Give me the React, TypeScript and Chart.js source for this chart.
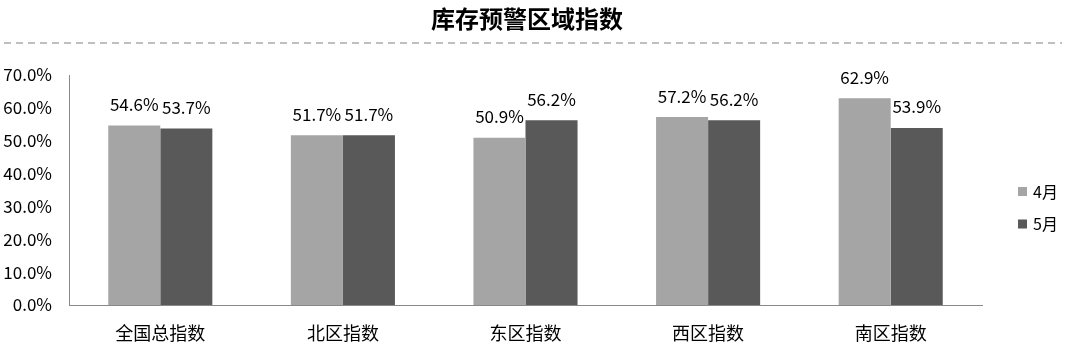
import React, { useEffect, useRef } from "react";
import { Chart, registerables } from "chart.js";

Chart.register(...registerables);

const TITLE = "库存预警区域指数";
const categories = ["全国总指数", "北区指数", "东区指数", "西区指数", "南区指数"];
const seriesNames = ["4月", "5月"];
const aprilValues = [0.546, 0.517, 0.509, 0.572, 0.629];
const mayValues = [0.537, 0.517, 0.562, 0.562, 0.539];
const seriesColors = ["#a5a5a5", "#595959"];
const yTicks = [0, 0.1, 0.2, 0.3, 0.4, 0.5, 0.6, 0.7];

const FONT = '"Noto Sans CJK SC", "Noto Sans", sans-serif';

const decorPlugin = {
  id: "decor",
  afterDraw(chart: any) {
    const ctx = chart.ctx;
    ctx.save();
    // title
    ctx.fillStyle = "#000";
    ctx.font = `bold 24px ${FONT}`;
    ctx.textAlign = "center";
    ctx.textBaseline = "middle";
    ctx.fillText(TITLE, 527, 19);
    // dashed line
    ctx.strokeStyle = "#bfbfbf";
    ctx.lineWidth = 2;
    ctx.setLineDash([7, 5]);
    ctx.beginPath();
    ctx.moveTo(4, 43);
    ctx.lineTo(1062, 43);
    ctx.stroke();
    ctx.setLineDash([]);
    // data labels
    ctx.font = `17px ${FONT}`;
    ctx.fillStyle = "#000";
    ctx.textAlign = "center";
    ctx.textBaseline = "middle";
    chart.data.datasets.forEach((ds: any, di: number) => {
      const meta = chart.getDatasetMeta(di);
      meta.data.forEach((el: any, i: number) => {
        const v = ds.data[i];
        ctx.fillText((v * 100).toFixed(1) + "%", el.x, el.y - 21);
      });
    });
    // legend
    ctx.font = `16px ${FONT}`;
    ctx.textAlign = "left";
    seriesNames.forEach((name, i) => {
      const cy = 191.5 + i * 32.5;
      ctx.fillStyle = seriesColors[i];
      ctx.fillRect(1018, cy - 4.5, 9, 9);
      ctx.fillStyle = "#000";
      ctx.fillText(name, 1033, cy);
    });
    ctx.restore();
  },
};

export default function App() {
  const ref = useRef<HTMLCanvasElement>(null);
  useEffect(() => {
    document.body.style.margin = "0";
    const chart = new Chart(ref.current as HTMLCanvasElement, {
      type: "bar",
      data: {
        labels: categories,
        datasets: [
          {
            label: seriesNames[0],
            data: aprilValues,
            backgroundColor: seriesColors[0],
            barPercentage: 1,
            categoryPercentage: 0.57,
          },
          {
            label: seriesNames[1],
            data: mayValues,
            backgroundColor: seriesColors[1],
            barPercentage: 1,
            categoryPercentage: 0.57,
          },
        ],
      },
      options: {
        animation: false,
        responsive: false,
        layout: { padding: { top: 75, right: 89, bottom: 0, left: 0 } },
        plugins: {
          legend: { display: false },
          title: { display: false },
          tooltip: { enabled: false },
        },
        scales: {
          x: {
            grid: { display: false, drawTicks: false },
            border: { display: true, color: "#898989", width: 1 },
            ticks: {
              color: "#000",
              font: { family: FONT, size: 18 },
              padding: 17,
            },
            afterFit(scale: any) {
              scale.height = 53;
            },
          },
          y: {
            min: 0,
            max: 0.7,
            afterBuildTicks(scale: any) {
              scale.ticks = yTicks.map((v) => ({ value: v }));
            },
            grid: { display: false, drawTicks: false },
            border: { display: true, color: "#898989", width: 1 },
            ticks: {
              color: "#000",
              font: { family: FONT, size: 17 },
              padding: 17,
              callback: (v: any) => (Number(v) * 100).toFixed(1) + "%",
            },
            afterFit(scale: any) {
              scale.width = 69;
            },
          },
        },
      },
      plugins: [decorPlugin],
    });
    return () => chart.destroy();
  }, []);
  return (
    <div style={{ position: "absolute", left: 0, top: 0, width: 1071, height: 358 }}>
      <canvas ref={ref} width={1071} height={358} style={{ width: 1071, height: 358, display: "block" }} />
    </div>
  );
}
